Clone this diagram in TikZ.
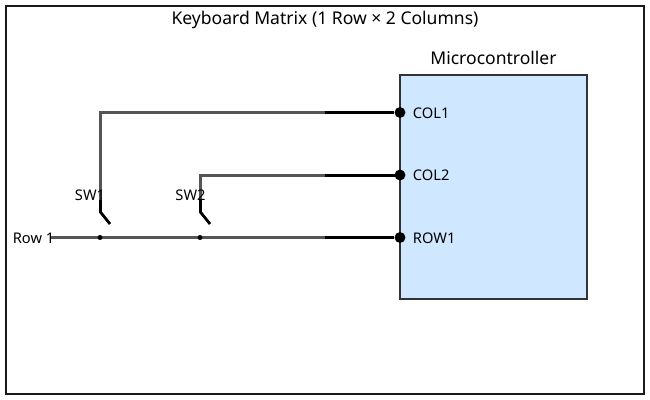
\documentclass[tikz,border=0pt]{standalone}
\usepackage{fontspec}
\setmainfont{Noto Sans}
\usetikzlibrary{positioning}
\definecolor{mcufill}{RGB}{208,232,255}
\definecolor{wiregray}{RGB}{85,85,85}
\definecolor{edgegray}{RGB}{51,51,51}

\begin{document}
\begin{tikzpicture}[
    x=0.75pt,y=-0.75pt,
    frame/.style={rectangle,draw=black!90,line width=2pt,minimum width=478.5pt,minimum height=291pt,inner sep=0pt},
    mcu/.style={rectangle,draw=edgegray,fill=mcufill,line width=2.1pt,minimum width=140.25pt,minimum height=168pt,inner sep=0pt},
    pin/.style={circle,fill=black,minimum size=8.2pt,inner sep=0pt},
    joint/.style={circle,fill=black,minimum size=3.75pt,inner sep=0pt},
    wire/.style={draw=wiregray,line width=2pt},
    lead/.style={draw=black,line width=2.1pt},
    label/.style={font=\fontsize{11pt}{13pt}\selectfont,text=black,inner sep=0pt},
    heading/.style={font=\fontsize{13.15pt}{15pt}\selectfont,text=black,inner sep=0pt}
  ]
    \useasboundingbox (0,0) rectangle (650,400);
    \node[frame] (border) at (325,200) {};
    \node[mcu] (chip) at (493.5,187) {};
    \node[heading] (title) at (325,20) {Keyboard Matrix (1 Row × 2 Columns)};
    \node[heading] (chipname) at (493.5,58) {Microcontroller};

    % pins on the chip
    \node[pin] (col1) at (400,112.5) {};
    \node[pin] (col2) at (400,175) {};
    \node[pin] (row1) at (400,237.5) {};
    \node[label,right=9.5pt of col1.center,yshift=-0.7pt] (col1text) {COL1};
    \node[label,right=9.5pt of col2.center,yshift=-0.4pt] (col2text) {COL2};
    \node[label,right=9.5pt of row1.center,yshift=-0.7pt] (row1text) {ROW1};

    % wire ends
    \coordinate (col1mid) at (325,112.5);
    \coordinate (col2mid) at (325,175.4);
    \coordinate (row1mid) at (325,237.5);
    \coordinate (col2end) at (400,175.4);
    \coordinate (col1bend) at (100.4,112.5);
    \coordinate (col2bend) at (200.4,175.4);
    \coordinate (rowstart) at (50,237.5);
    \coordinate (sw1top) at (100.4,200);
    \coordinate (sw2top) at (200.4,200);
    \coordinate (sw1pivot) at (100.4,212);
    \coordinate (sw2pivot) at (200.4,212);
    \coordinate (sw1tip) at (110,224);
    \coordinate (sw2tip) at (210,224);

    \draw[wire] (col1mid) -- (col1bend) -- (sw1top);
    \draw[wire] (col2mid) -- (col2bend) -- (sw2top);
    \draw[wire] (rowstart) -- (row1mid);
    \draw[lead] (col1mid) -- (col1);
    \draw[lead] (col2mid) -- (col2end);
    \draw[lead] (row1mid) -- (row1);
    \draw[lead] (sw1top) -- (sw1pivot) -- (sw1tip);
    \draw[lead] (sw2top) -- (sw2pivot) -- (sw2tip);

    \node[joint] (sw1joint) at (100,237.5) {};
    \node[joint] (sw2joint) at (200,237.5) {};
    \node[label] (sw1text) at (90,195.5) {SW1};
    \node[label] (sw2text) at (190.5,195.5) {SW2};
    \node[label] (rowtext) at (33.5,238.5) {Row 1};
  \end{tikzpicture}
\end{document}
